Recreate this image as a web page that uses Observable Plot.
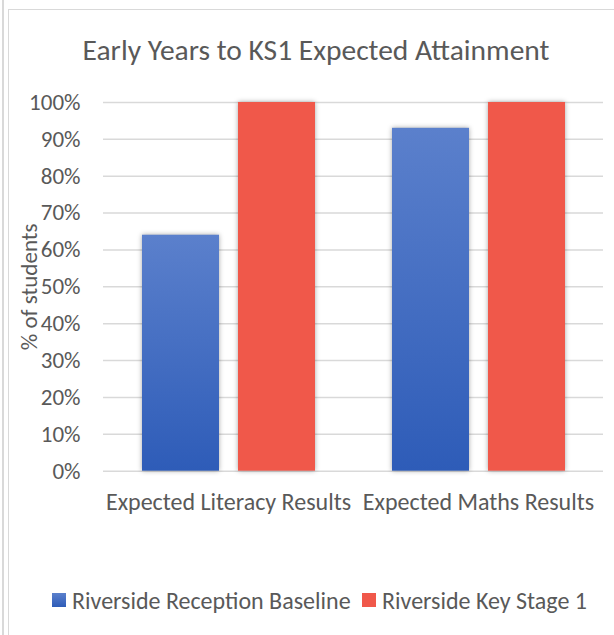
<!DOCTYPE html>
<html><head><meta charset="utf-8">
<script src="https://cdn.jsdelivr.net/npm/d3@7"></script>
<script src="https://cdn.jsdelivr.net/npm/@observablehq/plot@0.6"></script>
<style>
html,body{margin:0;padding:0;background:#fff;overflow:hidden;width:614px;height:635px;}
body{position:relative;font-family:Carlito, Lato, sans-serif;color:#595959;}
#outer{position:absolute;left:2px;top:0;width:1.5px;height:635px;background:#d9d9d9;}
#frame{position:absolute;left:8px;top:9px;width:700px;height:700px;border:1.5px solid #d9d9d9;box-sizing:border-box;}
#title{position:absolute;left:0;width:632px;top:30px;text-align:center;font-size:29.5px;line-height:40px;}
#chart{position:absolute;left:0;top:70px;}
.item{position:absolute;top:588px;height:24px;display:flex;align-items:center;font-size:24px;white-space:nowrap;}
.sw{width:14px;height:14px;display:inline-block;margin-right:6px;}
#chart g[aria-label="bar"] rect{filter:drop-shadow(0 0 2.5px rgba(0,0,0,0.35));}
</style></head><body>
<div id="outer"></div>
<div id="frame"></div>
<div id="title">Early Years to KS1 Expected Attainment</div>
<div id="chart"></div>
<div id="legend"></div>
<script>
const title = "Early Years to KS1 Expected Attainment";
const categories = ["Expected Literacy Results", "Expected Maths Results"];
const seriesNames = ["Riverside Reception Baseline", "Riverside Key Stage 1"];
const receptionBaseline = [0.64, 0.93];
const keyStage1 = [1.00, 1.00];
const yTicks = [0, 0.1, 0.2, 0.3, 0.4, 0.5, 0.6, 0.7, 0.8, 0.9, 1.0];
const yLabel = "% of students";
const seriesColors = ["url(#blueGrad)", "#F0584A"];

const data = categories.flatMap((c, i) => [
  {category: c, series: seriesNames[0], value: receptionBaseline[i]},
  {category: c, series: seriesNames[1], value: keyStage1[i]}
]);

const font = "Carlito, Lato, sans-serif";
const W = 614, ML = 103, MR = 11;
const chart = Plot.plot({
  width: W, height: 470,
  marginTop: 32, marginBottom: 69.3, marginLeft: ML, marginRight: MR,
  style: {fontFamily: font, fontSize: "23px", color: "#595959", background: "transparent", overflow: "visible"},
  fx: {domain: categories, paddingInner: 0, paddingOuter: 0, label: null},
  x: {domain: seriesNames, paddingInner: 0.198, paddingOuter: 0.401, axis: null},
  y: {domain: [0, 1]},
  color: {domain: seriesNames, range: seriesColors},
  marks: [
    Plot.axisY({ticks: yTicks, tickSize: -(W - ML - MR), tickFormat: () => "", stroke: "#D9D9D9", strokeWidth: 1.5, label: null}),
    Plot.barY(data, {fx: "category", x: "series", y: "value", fill: "series"}),
    Plot.axisY({ticks: yTicks, tickFormat: d3.format(".0%"), tickSize: 0, tickPadding: 23,
      label: yLabel, labelAnchor: "center", labelArrow: "none", labelOffset: 83, fill: "#595959"}),
    Plot.axisFx({anchor: "bottom", tickSize: 0, tickPadding: 22, label: null, fill: "#595959", fontSize: 24})
  ]
});
const ns = "http://www.w3.org/2000/svg";
const defs = document.createElementNS(ns, "defs");
defs.innerHTML = '<linearGradient id="blueGrad" x1="0" y1="0" x2="0" y2="1"><stop offset="0" stop-color="#5B80CC"/><stop offset="1" stop-color="#2E5CB8"/></linearGradient>';
chart.insertBefore(defs, chart.firstChild);
document.getElementById("chart").appendChild(chart);

const legendLefts = [52, 362];
const legend = document.getElementById("legend");
seriesNames.forEach((s, i) => {
  const it = document.createElement("div");
  it.className = "item";
  it.style.left = legendLefts[i] + "px";
  const sw = document.createElement("span");
  sw.className = "sw";
  sw.style.background = i === 0 ? "linear-gradient(#5B80CC, #2E5CB8)" : seriesColors[1];
  it.appendChild(sw);
  it.appendChild(document.createTextNode(s));
  legend.appendChild(it);
});
</script>
</body></html>
